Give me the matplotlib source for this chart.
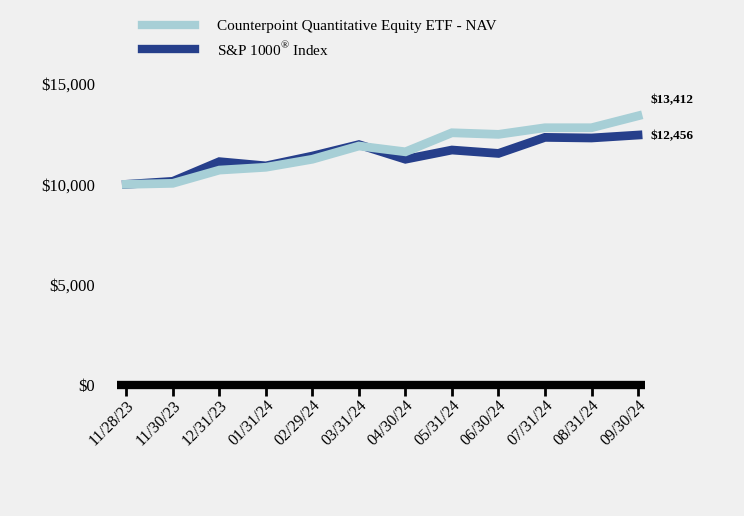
import matplotlib

matplotlib.use("Agg")
import matplotlib.pyplot as plt
from matplotlib.lines import Line2D

plt.rcParams["font.family"] = ["Liberation Serif", "DejaVu Serif"]
plt.rcParams["mathtext.fontset"] = "custom"
plt.rcParams["mathtext.rm"] = "Liberation Serif"

DATES = ["11/28/23", "11/30/23", "12/31/23", "01/31/24", "02/29/24", "03/31/24",
         "04/30/24", "05/31/24", "06/30/24", "07/31/24", "08/31/24", "09/30/24"]
ETF_NAV = [10000, 10050, 10710, 10850, 11250, 11910, 11620, 12570, 12490, 12820, 12820, 13412]
SP1000 = [10000, 10150, 11130, 10920, 11410, 11980, 11250, 11710, 11540, 12340, 12310, 12456]
YTICKS = [0, 5000, 10000, 15000]

LIGHT = "#a7cfd6"
DARK = "#263f8b"
BG = "#f0f0f0"

fig = plt.figure(figsize=(7.44, 5.16), dpi=100, facecolor=BG)
ax = fig.add_axes([117 / 744, 131 / 516, 528 / 744, 301 / 516], facecolor=BG)

x = list(range(len(DATES)))
ax.plot(x, SP1000, color=DARK, lw=6.3, solid_joinstyle="miter", zorder=3)
ax.plot(x, ETF_NAV, color=LIGHT, lw=6.3, solid_joinstyle="miter", zorder=4)

ax.set_xlim(-0.2, len(DATES) - 1 + 0.15)
ax.set_ylim(0, 15000)
for s in ax.spines.values():
    s.set_visible(False)
ax.axhline(0, color="black", lw=6, zorder=1, solid_capstyle="butt", clip_on=False)

ax.set_yticks(YTICKS)
ax.set_yticklabels([f"${v:,.0f}" for v in YTICKS], fontsize=12)
ax.tick_params(axis="y", length=0, pad=16)
ax.set_xticks(x)
ax.set_xticklabels(DATES, rotation=45, ha="right", rotation_mode="anchor", fontsize=11.5)
ax.tick_params(axis="x", length=8, width=2, direction="out", pad=1)

ax.annotate(f"${ETF_NAV[-1]:,.0f}", (x[-1], ETF_NAV[-1]), xytext=(9, 11),
            textcoords="offset points", fontsize=9.5, fontweight="bold", va="center")
ax.annotate(f"${SP1000[-1]:,.0f}", (x[-1], SP1000[-1]), xytext=(9, -1),
            textcoords="offset points", fontsize=9.5, fontweight="bold", va="center")

handles = [Line2D([], [], color=LIGHT, lw=6), Line2D([], [], color=DARK, lw=6)]
fig.legend(handles, ["Counterpoint Quantitative Equity ETF - NAV", "S&P 1000$^{\\mathrm{®}}$ Index"],
           loc="upper left", bbox_to_anchor=(128 / 744, 1 - 6 / 516), frameon=False,
           fontsize=11, handlelength=3.5, handletextpad=1.4, labelspacing=0.4)

fig.savefig("out.png", dpi=100, facecolor=BG)
